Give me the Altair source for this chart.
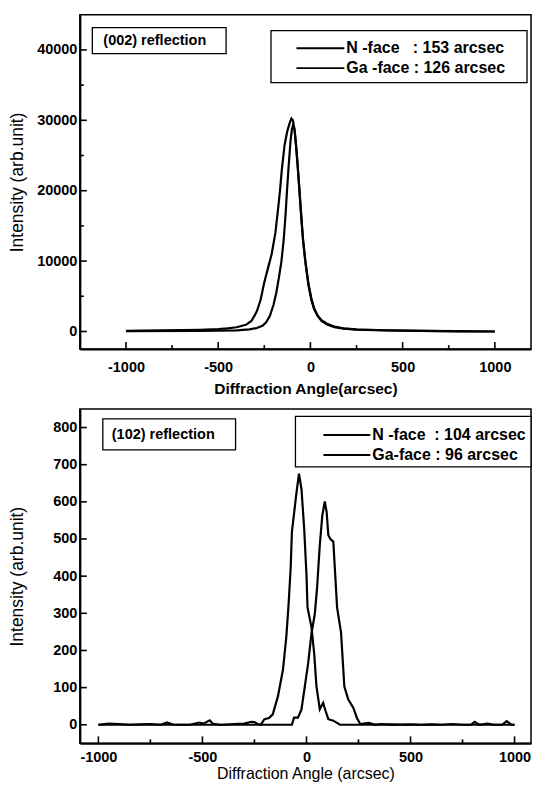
import altair as alt
import pandas as pd

FONT = "Liberation Sans"

# ---------------- (002) reflection ----------------
a_nface_x = [-1000, -800, -600, -500, -450, -400, -350, -320, -300, -290, -270, -250, -230, -210,
             -190, -175, -165, -155, -140, -125, -110, -103, -95, -85, -70, -55, -40, -25, -10, 5,
             20, 40, 60, 90, 130, 180, 250, 400, 600, 800, 1000]
a_nface_y = [100, 150, 250, 350, 450, 600, 950, 1500, 2400, 2900, 4500, 7000, 9000, 11000,
             14000, 17500, 20000, 23000, 26500, 28500, 29800, 30250, 30000, 28500, 24000, 18500,
             13000, 9500, 6500, 4500, 3200, 2200, 1600, 1100, 700, 450, 300, 180, 100, 50, 0]
a_gaface_x = [-1000, -600, -400, -330, -290, -260, -240, -220, -200, -185, -170, -157, -145, -135,
              -127, -118, -108, -100, -94, -87, -78, -65, -52, -40, -28, -12, 5, 20, 40, 60, 90,
              130, 180, 250, 400, 600, 800, 1000]
a_gaface_y = [50, 80, 150, 300, 500, 800, 1300, 2200, 3800, 5500, 7800, 10000, 13000, 16500,
              20000, 23500, 27000, 28800, 29300, 28800, 26500, 22000, 17000, 13000, 10000, 7000,
              4700, 3300, 2200, 1500, 1000, 600, 400, 250, 150, 80, 30, 0]

a_x_major = [-1000, -500, 0, 500, 1000]
a_x_minor = [-750, -250, 250, 750]
a_y_major = [0, 10000, 20000, 30000, 40000]
a_y_minor = [5000, 15000, 25000, 35000]
a_labels = ["N -face\u00a0\u00a0\u00a0: 153 arcsec", "Ga -face : 126 arcsec"]
a_note = "(002) reflection"
a_xtitle = "Diffraction Angle(arcsec)"

# ---------------- (102) reflection ----------------
b_gaface_x = [-1000, -950, -900, -850, -800, -750, -700, -670, -640, -560, -515, -495, -465,
              -450, -420, -400, -350, -300, -265, -250, -235, -220, -202, -180, -162, -137,
              -113, -97, -86, -76, -70, -48, -36, -24, -11, 0, 5, 24, 37, 48, 64, 80, 92, 105,
              129, 161, 200, 300, 400, 500, 600, 700, 800, 900, 1000]
b_gaface_y = [0, 3, 2, 0, 1, 2, 0, 6, 0, 0, 6, 3, 12, 3, 0, 0, 2, 3, 8, 7, 2, 0, 15, 18, 28, 77,
              148, 236, 324, 422, 519, 625, 676, 634, 528, 404, 316, 263, 192, 103, 42, 59, 37,
              15, 11, 0, 0, 0, 1, 0, 0, 0, 0, 0, 0]
b_nface_x = [-1000, -900, -800, -700, -600, -500, -400, -300, -200, -100, -70, -60, -41, -24, -8,
             8, 24, 40, 51, 64, 76, 88, 97, 105, 115, 129, 140, 147, 166, 182, 201, 225, 242,
             258, 300, 330, 360, 400, 450, 500, 550, 600, 650, 700, 750, 790, 808, 830, 870,
             900, 940, 962, 985, 1000]
b_nface_y = [0, 0, 0, 0, 0, 0, 0, 0, 0, 0, 0, 19, 19, 41, 103, 165, 245, 298, 369, 484, 563,
             601, 572, 510, 500, 493, 386, 316, 249, 103, 68, 46, 19, 2, 5, 0, 2, 0, 0, 1, 0, 1,
             0, 2, 0, 0, 8, 0, 3, 0, 0, 10, 0, 0]

b_x_major = [-1000, -500, 0, 500, 1000]
b_x_minor = [-750, -250, 250, 750]
b_y_major = [0, 100, 200, 300, 400, 500, 600, 700, 800]
b_y_minor = []
b_labels = ["N -face\u00a0\u00a0: 104 arcsec", "Ga-face : 96 arcsec"]
b_note = "(102) reflection"
b_xtitle = "Diffraction Angle (arcsec)"

Y_TITLE = "Intensity (arb.unit)"
HYPHEN_LABEL = "datum.value < 0 ? '-' + toString(-datum.value) : toString(datum.value)"


def build_panel(curves, xdom, ydom, W, H, xmaj, xmin, ymaj, ymin, xtitle, xt_weight, xt_size,
                x_lpad, x_tpad, note, note_box, note_pos, labels, leg_box, leg_line, leg_rows,
                leg_text_x):
    df = pd.concat([pd.DataFrame({"x": cx, "y": cy, "s": name}) for name, cx, cy in curves])
    xs = alt.Scale(domain=xdom, nice=False, zero=False)
    ys = alt.Scale(domain=ydom, nice=False, zero=False)
    one = pd.DataFrame({"k": [0]})

    xaxis = alt.Axis(values=xmaj, title=xtitle, grid=False, ticks=False, tickSize=0,
                     domainColor="black", domainWidth=2, labelFont=FONT, labelFontSize=14.5,
                     labelFontWeight="bold", labelColor="black", labelPadding=x_lpad,
                     labelFlush=False, labelOverlap=False, titleFont=FONT,
                     titleFontSize=xt_size, titleFontWeight=xt_weight, titleColor="black",
                     titlePadding=x_tpad, labelExpr=HYPHEN_LABEL)
    yaxis = alt.Axis(values=ymaj, title=Y_TITLE, grid=False, ticks=False, tickSize=0,
                     domainColor="black", domainWidth=2, labelFont=FONT, labelFontSize=14.5,
                     labelFontWeight="bold", labelColor="black", labelPadding=3,
                     labelOverlap=False, labelFlush=False, titleFont=FONT, titleFontSize=17.5,
                     titleFontWeight="normal", titleColor="black", titlePadding=8,
                     minExtent=45, maxExtent=45, format="d")

    layers = []
    layers.append(alt.Chart(df).mark_line(color="black", strokeWidth=2.2, clip=True).encode(
        x=alt.X("x:Q", scale=xs, axis=xaxis),
        y=alt.Y("y:Q", scale=ys, axis=yaxis),
        detail="s:N"))
    for (x1, x2, y1, y2) in [note_box, leg_box]:
        layers.append(alt.Chart(one).mark_rect(fill="white", stroke="black", strokeWidth=1.3).encode(
            x=alt.value(x1), x2=alt.value(x2), y=alt.value(y1), y2=alt.value(y2)))
    layers.append(alt.Chart(one).mark_text(align="left", baseline="middle", font=FONT, fontSize=14.5,
                                           fontWeight="bold", color="black").encode(
        x=alt.value(note_pos[0]), y=alt.value(note_pos[1]), text=alt.value(note)))
    for lab, ry in zip(labels, leg_rows):
        layers.append(alt.Chart(one).mark_rule(color="black", strokeWidth=2).encode(
            x=alt.value(leg_line[0]), x2=alt.value(leg_line[1]), y=alt.value(ry)))
        layers.append(alt.Chart(one).mark_text(align="left", baseline="middle", font=FONT,
                                               fontSize=16, fontWeight="bold", color="black").encode(
            x=alt.value(leg_text_x), y=alt.value(ry), text=alt.value(lab)))

    for vals, ln in [(xmaj, 7), (xmin, 4)]:
        if vals:
            layers.append(alt.Chart(pd.DataFrame({"x": vals})).mark_rule(color="black", strokeWidth=1.6).encode(
                x=alt.X("x:Q", scale=xs, axis=xaxis), y=alt.value(H), y2=alt.value(H - ln)))
    for vals, ln in [(ymaj, 7), (ymin, 4)]:
        if vals:
            layers.append(alt.Chart(pd.DataFrame({"y": vals})).mark_rule(color="black", strokeWidth=1.6).encode(
                y=alt.Y("y:Q", scale=ys, axis=yaxis), x=alt.value(0), x2=alt.value(ln)))

    return alt.layer(*layers).properties(width=W, height=H)


top = build_panel(
    [("N-face", a_nface_x, a_nface_y), ("Ga-face", a_gaface_x, a_gaface_y)],
    [-1250, 1196], [-2500, 45000], 452, 335,
    a_x_major, a_x_minor, a_y_major, a_y_minor,
    a_xtitle, "bold", 15.5, 11, 8,
    a_note, (12.5, 146.5, 13, 39), (23.5, 26),
    a_labels, (191.5, 448, 16, 68), (217, 265), (33.5, 53.5), 267)

bottom = build_panel(
    [("N-face", b_nface_x, b_nface_y), ("Ga-face", b_gaface_x, b_gaface_y)],
    [-1089, 1079], [-50, 850], 452, 335,
    b_x_major, b_x_minor, b_y_major, b_y_minor,
    b_xtitle, "normal", 16, 7, 2,
    b_note, (23, 156, 10, 41), (32, 26.5),
    b_labels, (216, 452, 7.5, 58), (244, 291), (26, 46), 293)

chart = alt.vconcat(top, bottom, spacing=10).properties(
    padding={"left": 0, "top": 5, "right": 0, "bottom": 0},
    background="white",
).configure_view(stroke="black", strokeWidth=1.5)

chart.save("out.html", embed_options={"renderer": "svg", "actions": False})
